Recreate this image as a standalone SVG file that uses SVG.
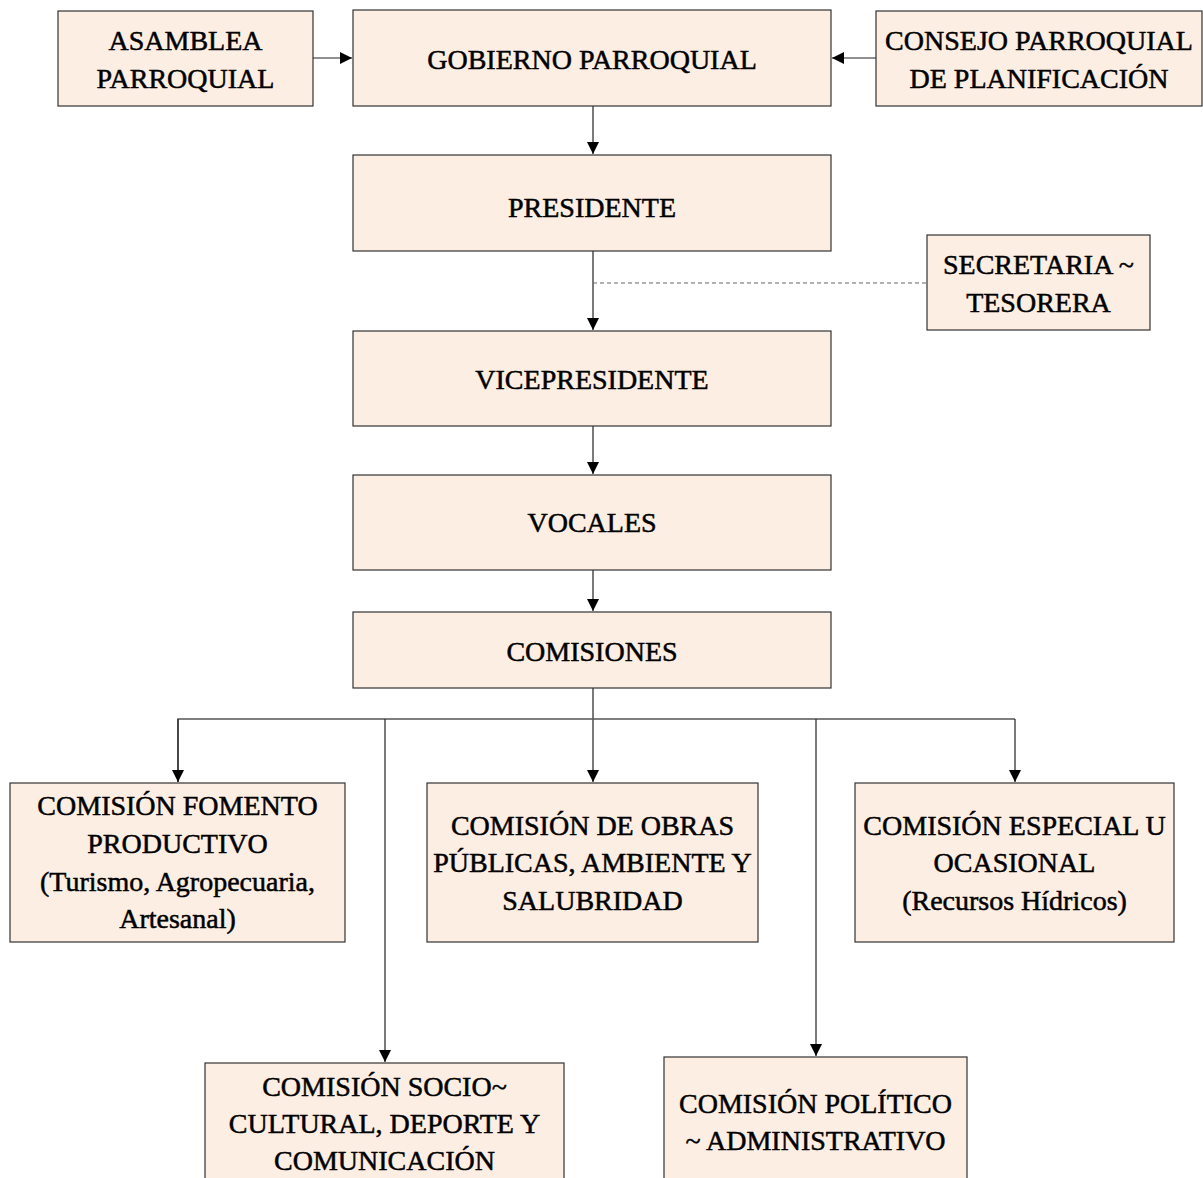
<svg xmlns="http://www.w3.org/2000/svg" width="1203" height="1178" viewBox="0 0 1203 1178">
<defs>
<marker id="arr" viewBox="0 0 10 10" refX="10" refY="5" markerWidth="12" markerHeight="12" markerUnits="userSpaceOnUse" orient="auto">
<path d="M0,0 L10,5 L0,10 z" fill="#000"/>
</marker>
<style>
.box{fill:#FDEEE3;stroke:#333;stroke-width:1.2}
.t{font-family:"Liberation Serif","Times New Roman",serif;font-size:28px;fill:#000;stroke:#000;stroke-width:0.5;text-anchor:middle}
.c{stroke:#222;stroke-width:1.2;fill:none}
.bus{stroke:#555;stroke-width:1.5;fill:none}
.d{stroke:#666;stroke-width:1.2;stroke-dasharray:4,3;fill:none}
</style>
</defs>
<rect width="1203" height="1178" fill="#fff"/>
<g id="connectors">
<line class="c" x1="313" y1="58" x2="352" y2="58" marker-end="url(#arr)"/>
<line class="c" x1="876" y1="58" x2="832" y2="58" marker-end="url(#arr)"/>
<line class="c" x1="593" y1="106" x2="593" y2="154" marker-end="url(#arr)"/>
<line class="c" x1="593" y1="251" x2="593" y2="330" marker-end="url(#arr)"/>
<line class="d" x1="593" y1="283" x2="927" y2="283"/>
<line class="c" x1="593" y1="426" x2="593" y2="474" marker-end="url(#arr)"/>
<line class="c" x1="593" y1="570" x2="593" y2="611" marker-end="url(#arr)"/>
<line class="c" x1="593" y1="688" x2="593" y2="782" marker-end="url(#arr)"/>
<polyline class="bus" points="178,782 178,719 1015,719"/>
<line class="c" x1="178" y1="719" x2="178" y2="782" marker-end="url(#arr)"/>
<line class="c" x1="1015" y1="719" x2="1015" y2="782" marker-end="url(#arr)"/>
<line class="c" x1="385" y1="719" x2="385" y2="1062" marker-end="url(#arr)"/>
<line class="c" x1="816" y1="719" x2="816" y2="1056" marker-end="url(#arr)"/>
</g>
<g id="asamblea">
<rect class="box" x="58" y="11" width="255" height="95"/>
<text class="t" x="185.5" y="50">ASAMBLEA</text>
<text class="t" x="185.5" y="88">PARROQUIAL</text>
</g>
<g id="gobierno">
<rect class="box" x="353" y="10" width="478" height="96"/>
<text class="t" x="592" y="69">GOBIERNO PARROQUIAL</text>
</g>
<g id="consejo">
<rect class="box" x="876" y="11" width="326" height="95"/>
<text class="t" x="1039" y="50">CONSEJO PARROQUIAL</text>
<text class="t" x="1039" y="88">DE PLANIFICACIÓN</text>
</g>
<g id="presidente">
<rect class="box" x="353" y="155" width="478" height="96"/>
<text class="t" x="592" y="217">PRESIDENTE</text>
</g>
<g id="secretaria">
<rect class="box" x="927" y="235" width="223" height="95"/>
<text class="t" x="1038.5" y="274">SECRETARIA ~</text>
<text class="t" x="1038.5" y="312">TESORERA</text>
</g>
<g id="vicepresidente">
<rect class="box" x="353" y="331" width="478" height="95"/>
<text class="t" x="592" y="389">VICEPRESIDENTE</text>
</g>
<g id="vocales">
<rect class="box" x="353" y="475" width="478" height="95"/>
<text class="t" x="592" y="532">VOCALES</text>
</g>
<g id="comisiones">
<rect class="box" x="353" y="612" width="478" height="76"/>
<text class="t" x="592" y="661">COMISIONES</text>
</g>
<g id="fomento">
<rect class="box" x="10" y="783" width="335" height="159"/>
<text class="t" x="177.5" y="815">COMISIÓN FOMENTO</text>
<text class="t" x="177.5" y="853">PRODUCTIVO</text>
<text class="t" x="177.5" y="891">(Turismo, Agropecuaria,</text>
<text class="t" x="177.5" y="928">Artesanal)</text>
</g>
<g id="obras">
<rect class="box" x="427" y="783" width="331" height="159"/>
<text class="t" x="592.5" y="835">COMISIÓN DE OBRAS</text>
<text class="t" x="592.5" y="872">PÚBLICAS, AMBIENTE Y</text>
<text class="t" x="592.5" y="910">SALUBRIDAD</text>
</g>
<g id="especial">
<rect class="box" x="855" y="783" width="319" height="159"/>
<text class="t" x="1014.5" y="835">COMISIÓN ESPECIAL U</text>
<text class="t" x="1014.5" y="872">OCASIONAL</text>
<text class="t" x="1014.5" y="910">(Recursos Hídricos)</text>
</g>
<g id="socio">
<rect class="box" x="205" y="1063" width="359" height="130"/>
<text class="t" x="384.5" y="1096">COMISIÓN SOCIO~</text>
<text class="t" x="384.5" y="1133">CULTURAL, DEPORTE Y</text>
<text class="t" x="384.5" y="1170">COMUNICACIÓN</text>
</g>
<g id="politico">
<rect class="box" x="664" y="1057" width="303" height="140"/>
<text class="t" x="815.5" y="1113">COMISIÓN POLÍTICO</text>
<text class="t" x="815.5" y="1150">~ ADMINISTRATIVO</text>
</g>
</svg>
